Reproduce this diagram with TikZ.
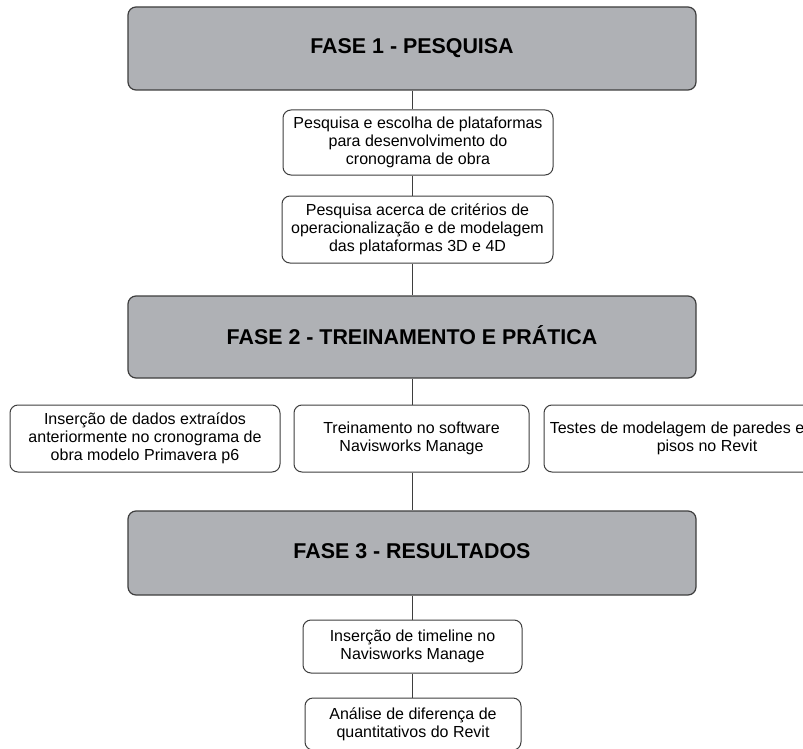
\documentclass[tikz,border=0pt]{standalone}
\usepackage{fontspec}
\setmainfont{Liberation Sans}
\usetikzlibrary{positioning,calc}
\definecolor{fasegray}{RGB}{175,177,181}
\definecolor{edgegray}{RGB}{62,62,62}
\newcommand{\fasetitulo}[1]{\raisebox{3pt}{#1}}

\begin{document}
\begin{tikzpicture}[x=1pt,y=-1pt,
    fase/.style={draw=edgegray,line width=1.2pt,fill=fasegray,rounded corners=8pt,
      minimum width=568pt,font=\fontsize{21.4}{24}\selectfont\bfseries,inner sep=0pt},
    tarefa/.style={draw=edgegray,line width=1pt,fill=white,rounded corners=8pt,align=center,
      font=\fontsize{16}{18}\selectfont,inner sep=0pt},
    liga/.style={draw=edgegray,line width=1pt}]
  \useasboundingbox (0,0) rectangle (803,749);
  \clip (0,0) rectangle (803,749);
  % Fase 1
  \path (412,48.5) node[fase,minimum height=83pt] (F1) {\fasetitulo{FASE 1 - PESQUISA}};
  \path (418,142.5) node[tarefa,minimum width=270pt,minimum height=65pt] (P1)
    {Pesquisa e escolha de plataformas\\para desenvolvimento do\\cronograma de obra};
  \path (417.5,229.5) node[tarefa,minimum width=271pt,minimum height=67pt] (P2)
    {Pesquisa acerca de critérios de\\operacionalização e de modelagem\\das plataformas 3D e 4D};
  % Fase 2
  \path (412,337) node[fase,minimum height=82pt] (F2) {\fasetitulo{FASE 2 - TREINAMENTO E PRÁTICA}};
  \path (145,438.5) node[tarefa,minimum width=270pt,minimum height=67pt] (T1)
    {Inserção de dados extraídos\\anteriormente no cronograma de\\obra modelo Primavera p6};
  \path (411.5,438.5) node[tarefa,minimum width=235pt,minimum height=67pt] (T2)
    {Treinamento no software\\Navisworks Manage};
  \path (707,438.5) node[tarefa,minimum width=326pt,minimum height=67pt] (T3)
    {\hspace*{-60pt}Testes de modelagem de paredes e\\pisos no Revit};
  % Fase 3
  \path (412,553) node[fase,minimum height=84pt] (F3) {\fasetitulo{FASE 3 - RESULTADOS}};
  \path (412.5,646.5) node[tarefa,minimum width=219pt,minimum height=53pt] (R1)
    {Inserção de timeline no\\Navisworks Manage};
  \path (413,724) node[tarefa,minimum width=216pt,minimum height=52pt] (R2)
    {Análise de diferença de\\quantitativos do Revit};
  % Ligacoes
  \draw[liga] (F1.south) -- (F1.south |- P1.north) (F1.south |- P1.south) -- (F1.south |- P2.north)
    (F1.south |- P2.south) -- (F2.north) (F2.south) -- (F2.south |- T2.north)
    (F2.south |- T2.south) -- (F3.north) (F3.south) -- (F3.south |- R1.north)
    (F3.south |- R1.south) -- (F3.south |- R2.north);
\end{tikzpicture}
\end{document}
